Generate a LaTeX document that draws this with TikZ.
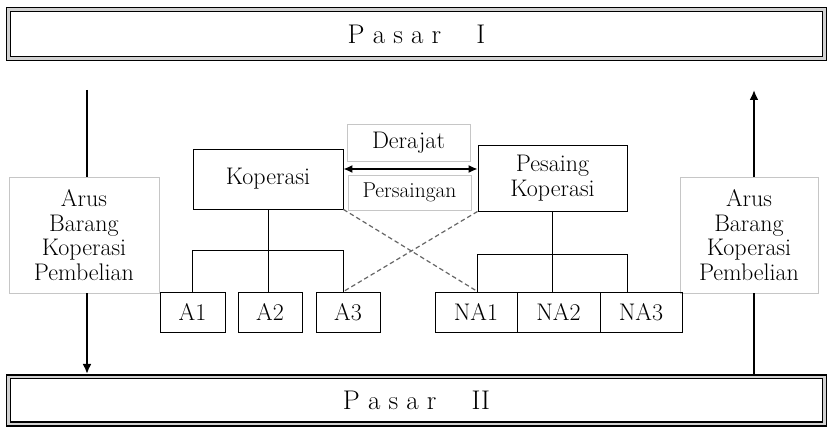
\documentclass[tikz,border=0pt]{standalone}
\usetikzlibrary{arrows.meta}

\newcommand{\bodytext}{\fontsize{24}{24.5}\selectfont}

\begin{document}
\begin{tikzpicture}[x=1pt, y=-1pt,
        market/.style={rectangle, draw, line width=1.3pt, double=gray!35,
            double distance=2.4pt, minimum width=816pt, minimum height=49pt,
            font=\fontsize{27}{28}\selectfont},
        box/.style={rectangle, draw, line width=0.9pt, inner sep=0pt,
            align=center, font=\bodytext},
        note/.style={rectangle, draw=gray!45, line width=0.6pt, fill=white,
            inner sep=0pt, align=center, font=\bodytext},
        flow/.style={line width=2.8pt, -{Latex[length=10pt,width=9pt]}},
        rival/.style={draw=black!60, line width=1.2pt, dash pattern=on 4.5pt off 3pt},
        ]
        \useasboundingbox[fill=white] (0,0) rectangle (830,427);

        % the two markets
        \node[market] (pasarA) at (416.5,34) {P a s a r \quad I};
        \node[market, minimum height=47pt] (pasarB) at (416.5,400.5) {P a s a r \quad II};

        % flow of goods on both sides
        \node[note, minimum width=150pt, minimum height=116pt] (arusL) at (84,235)
            {Arus\\Barang\\Koperasi\\Pembelian};
        \node[note, minimum width=138pt, minimum height=116pt] (arusR) at (749,235)
            {Arus\\Barang\\Koperasi\\Pembelian};

        % cooperative and its competitor
        \node[box, minimum width=150pt, minimum height=60pt] (kop) at (268,179) {Koperasi};
        \node[box, minimum width=149pt, minimum height=66pt] (pes) at (552.5,178)
            {Pesaing\\Koperasi};
        \node[note, minimum width=123pt, minimum height=37pt] (derajat) at (408.5,142.5) {Derajat};
        \node[note, minimum width=123pt, minimum height=35pt,
            font=\fontsize{21.5}{22}\selectfont] (saing) at (409.5,192.5) {Persaingan};

        % members
        \node[box, minimum width=65pt, minimum height=40pt] (a1) at (192.5,312) {A1};
        \node[box, minimum width=64pt, minimum height=40pt] (a2) at (270,312) {A2};
        \node[box, minimum width=64pt, minimum height=40pt] (a3) at (348,312) {A3};
        \node[box, minimum width=82pt, minimum height=40pt] (na1) at (476,312) {NA1};
        \node[box, minimum width=83pt, minimum height=40pt] (na2) at (558.5,312) {NA2};
        \node[box, minimum width=82pt, minimum height=40pt] (na3) at (641,312) {NA3};

        \coordinate (inL) at (87,90);
        \coordinate (outR) at (754,90);

        \draw[line width=2.8pt] (inL) -- (inL |- arusL.north);
        \draw[flow] (inL |- arusL.south) -- ([yshift=2.4pt]inL |- pasarB.north);
        \draw[line width=2.8pt] ([yshift=2.4pt]outR |- pasarB.north) -- (outR |- arusR.south);
        \draw[flow] (outR |- arusR.north) -- (outR);

        \draw[line width=1.4pt, {Latex[length=9pt,width=8pt]}-{Latex[length=9pt,width=8pt]}]
            ([yshift=10]kop.east) -- ([yshift=9]pes.west);

        % tree below each side
        \path (kop.south) ++(0,41) coordinate (kbar);
        \path (pes.south) ++(0,43) coordinate (pbar);
        \draw[line width=0.9pt] (kop.south) -- (kop.south |- a2.north);
        \draw[line width=0.9pt] (a1.north -| kop.south west) |- (kbar) -| (a3.north -| kop.south east);
        \draw[line width=0.9pt] (pes.south) -- (pes.south |- na2.north);
        \draw[line width=0.9pt] (na1.north -| pes.south west) |- (pbar) -| (na3.north -| pes.south east);

        \draw[rival] (kop.south east) -- (na1.north -| pes.south west);
        \draw[rival] (pes.south west) -- (a3.north -| kop.south east);

    \end{tikzpicture}
\end{document}
